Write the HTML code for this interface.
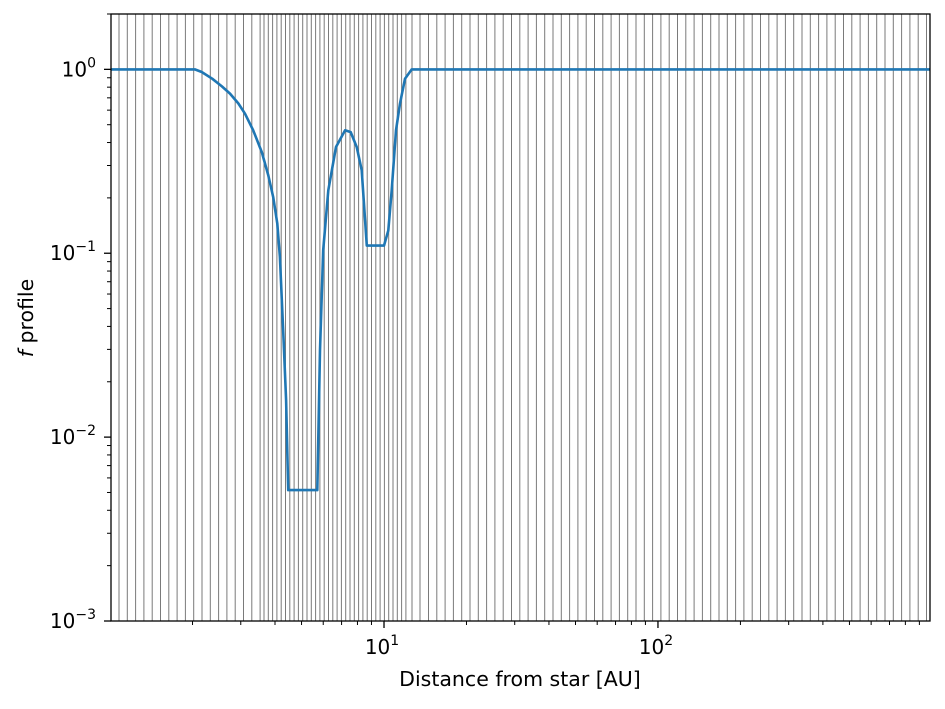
<!DOCTYPE html>
<html><head><meta charset="utf-8"><style>
body{margin:0;background:#fff;}
svg text{font-family:"DejaVu Sans","Liberation Sans",sans-serif;fill:#000;}
</style></head><body>
<svg id="chart" width="945" height="704" viewBox="0 0 945 704" xmlns="http://www.w3.org/2000/svg">
<rect width="945" height="704" fill="#fff"/>
<g id="grid"></g>
<g id="series"></g>
<g id="axes"></g>
<text x="520" y="686" text-anchor="middle" font-size="20.5">Distance from star [AU]</text>
<text transform="translate(33,318) rotate(-90)" text-anchor="middle" font-size="20.5"><tspan font-style="italic">f</tspan> profile</text>
</svg>
<script>
const xVals=[1.008,2.04,2.16,2.36,2.56,2.74,2.94,3.11,3.33,3.58,3.78,3.94,4.08,4.17,4.29,4.39,4.47,5.71,5.84,6.00,6.26,6.68,7.21,7.56,7.95,8.29,8.65,10.0,10.37,10.67,11.06,11.44,11.93,12.62,984];
const fVals=[1,1,0.967,0.890,0.808,0.738,0.652,0.574,0.466,0.355,0.265,0.202,0.145,0.0955,0.0367,0.0159,0.00515,0.00515,0.0297,0.104,0.220,0.378,0.466,0.456,0.378,0.283,0.110,0.110,0.133,0.220,0.466,0.652,0.890,1,1];
const xTickExp=[1,2];
const yTickExp=[0,-1,-2,-3];
const X0=111,X1=930,Y0=14,Y1=621;
const xMinL=Math.log10(1.008),xMaxL=Math.log10(984);
const yMinL=-3,yMaxL=Math.log10(2);
const sx=v=>X0+(Math.log10(v)-xMinL)/(xMaxL-xMinL)*(X1-X0);
const sy=v=>Y1-(Math.log10(v)-yMinL)/(yMaxL-yMinL)*(Y1-Y0);
const NS="http://www.w3.org/2000/svg";
function mk(t,a,p){const e=document.createElementNS(NS,t);for(const k in a)e.setAttribute(k,a[k]);p.appendChild(e);return e;}
const grid=document.getElementById('grid');
let gp=[];
for(let i=0;i<18;i++)gp.push(119+i*8.3);
for(let i=0;i<34;i++)gp.push(264+i*4.3);
gp.push(412,420);
for(let p=428.5;p<X1;p+=8.3)gp.push(p);
gp.forEach(p=>{
 const l=mk('line',{x1:p,x2:p,y1:Y0,y2:Y1,stroke:'#7a7a7a','stroke-width':1},grid);
 
 
});
const series=document.getElementById('series');
const pts=xVals.map((x,i)=>sx(x).toFixed(1)+','+sy(fVals[i]).toFixed(1)).join(' ');
const pl=mk('polyline',{points:pts,fill:'none',stroke:'#1f77b4','stroke-width':2.6,'stroke-linejoin':'round'},series);


const ax=document.getElementById('axes');
const fr=mk('rect',{x:X0,y:Y0,width:X1-X0,height:Y1-Y0,fill:'none',stroke:'#000','stroke-width':1.3},ax);


for(let e=0;e<=2;e++){for(let m=1;m<10;m++){const v=m*Math.pow(10,e);if(v<1.008||v>984)continue;const p=sx(v);
 const t=mk('line',{x1:p,x2:p,y1:Y1,y2:Y1+(m==1?7:4),stroke:'#000','stroke-width':m==1?1.3:1},ax);
 
 }}
xTickExp.forEach(e=>{const p=sx(Math.pow(10,e));
 const t=mk('text',{x:p-2,y:Y1+33,'text-anchor':'middle','font-size':20},ax);
 
 
 t.innerHTML='10<tspan dy="-9" font-size="14">'+e+'</tspan>';});
for(let e=-3;e<=0;e++){for(let m=1;m<10;m++){const v=m*Math.pow(10,e);if(v>2)continue;const p=sy(v);
 const t=mk('line',{x1:X0,x2:X0-(m==1?7:4),y1:p,y2:p,stroke:'#000','stroke-width':m==1?1.3:1},ax);
 
 }}
yTickExp.forEach(e=>{const p=sy(Math.pow(10,e));
 const t=mk('text',{x:96,y:p+7,'text-anchor':'end','font-size':20},ax);
 
 
 t.innerHTML='10<tspan dy="-9" font-size="14">'+(e==0?'0':'\u2212'+(-e))+'</tspan>';});
</script>
</body></html>
